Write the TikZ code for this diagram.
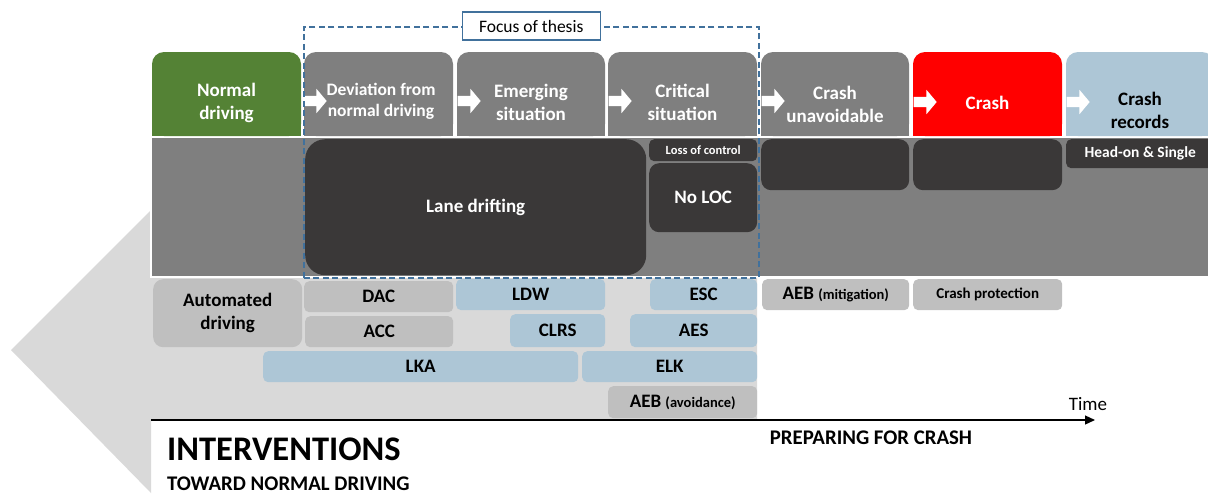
\documentclass[tikz,border=0pt]{standalone}
\usepackage{fontspec}
\setmainfont{Carlito}
\usetikzlibrary{arrows.meta,shapes.arrows}

\definecolor{drvgreen}{HTML}{548235}
\definecolor{stagegray}{HTML}{7F7F7F}
\definecolor{darkbox}{HTML}{3A3838}
\definecolor{crashred}{HTML}{FF0000}
\definecolor{sysblue}{HTML}{ADC6D6}
\definecolor{sysgray}{HTML}{BFBFBF}
\definecolor{backgray}{HTML}{D9D9D9}
\definecolor{focusblue}{HTML}{41719C}

\begin{document}
\begin{tikzpicture}[x=1pt,y=-1pt]
                \tikzstyle{stage}=[align=center, text=white, font=\bfseries\fontsize{19}{23}\selectfont]
                \tikzstyle{blk}=[anchor=north west, rounded corners=10pt, fill=darkbox, inner sep=0pt, text=white, font=\bfseries\fontsize{19}{23}\selectfont]
                \tikzstyle{sys}=[anchor=north west, rounded corners=5pt, inner sep=0pt, align=center, font=\bfseries\fontsize{19}{23}\selectfont]
                \tikzstyle{chev}=[single arrow, fill=white, inner sep=0pt, text height=10pt, text depth=0pt, minimum height=23pt, single arrow head extend=7pt, single arrow tip angle=100]
                \tikzstyle{capt}=[inner sep=0pt, font=\bfseries\fontsize{20.8}{25}\selectfont]

                \useasboundingbox (0,0) rectangle (1208,493);

                % big arrow behind the interventions
                \fill[backgray] (11,350) -- (151,210) -- (151,277) -- (757,277) -- (757,420) -- (151,420) -- (151,493) -- cycle;

                % stage headers
                \foreach \xa/\xb/\col in {152/301/drvgreen, 304/453/stagegray, 457/605/stagegray, 608/757/stagegray, 761/909/stagegray, 913/1062/crashred, 1066/1214/sysblue} {
                    \fill[\col, rounded corners=12pt] (\xa,52) rectangle (\xb,136);
                    \fill[\col] (\xa,90) rectangle (\xb,136);
                }

                % band
                \fill[stagegray] (152,138) rectangle (1215,277);
                \draw[white, line width=2pt] (151,137) -- (151,277) -- (1215,277);

                \node[blk, rounded corners=20pt, minimum width=341pt, minimum height=136pt] (lane) at (305,139) {Lane drifting};
                \node[blk, rounded corners=5pt, minimum width=108pt, minimum height=22pt, font=\bfseries\fontsize{12.5}{15}\selectfont] (loc) at (649,139) {Loss of control};
                \node[blk, minimum width=108pt, minimum height=69pt] (noloc) at (649,163) {No LOC};
                \node[blk, minimum width=148pt, minimum height=51pt] (cudark) at (761,139) {};
                \node[blk, minimum width=149pt, minimum height=51pt] (csdark) at (913,139) {};
                \node[blk, rounded corners=5pt, minimum width=148pt, minimum height=29pt, font=\bfseries\fontsize{15.5}{18}\selectfont] (headon) at (1066,139) {Head-on \& Single};

                \node[stage] (nd) at (226.5,102.5) {Normal\\driving};
                \node[stage, font=\bfseries\fontsize{17.5}{21}\selectfont] (dev) at (381,101) {Deviation from\\normal driving};
                \node[stage] (em) at (531,102.5) {Emerging\\situation};
                \node[stage] (cr) at (682.5,102.5) {Critical\\situation};
                \node[stage] (cu) at (835,104) {Crash\\unavoidable};
                \node[stage] (cs) at (987.5,103) {Crash};
                \node[stage, text=black] (rec) at (1140,110) {Crash\\records};

                \node[chev] (a1) at (313,101) {};
                \node[chev] (a2) at (467,101) {};
                \node[chev] (a3) at (618,101) {};
                \node[chev] (a4) at (771,101) {};
                \node[chev] (a5) at (923,102) {};
                \node[chev] (a6) at (1076,102) {};

                % interventions
                \node[sys, fill=sysgray, rounded corners=10pt, minimum width=149pt, minimum height=68pt] (auto) at (153,279) {Automated\\driving};
                \node[sys, fill=sysgray, minimum width=149pt, minimum height=31pt] (dac) at (304,281) {DAC};
                \node[sys, fill=sysgray, minimum width=148pt, minimum height=31pt] (acc) at (305,316) {ACC};
                \node[sys, fill=sysblue, minimum width=149pt, minimum height=31pt] (ldw) at (456,279) {LDW};
                \node[sys, fill=sysblue, minimum width=95pt, minimum height=33pt] (clrs) at (510,314) {CLRS};
                \node[sys, fill=sysblue, minimum width=107pt, minimum height=31pt] (esc) at (650,279) {ESC};
                \node[sys, fill=sysblue, minimum width=127pt, minimum height=33pt] (aes) at (630,314) {AES};
                \node[sys, fill=sysblue, minimum width=315pt, minimum height=31pt] (lka) at (263,351) {LKA};
                \node[sys, fill=sysblue, minimum width=175pt, minimum height=31pt] (elk) at (582,351) {ELK};
                \node[sys, fill=sysgray, minimum width=149pt, minimum height=32pt] (aebav) at (608,386) {AEB {\fontsize{14.5}{17}\selectfont(avoidance)}};
                \node[sys, fill=sysgray, minimum width=147pt, minimum height=31pt] (aebmi) at (762,279) {AEB {\fontsize{14.5}{17}\selectfont(mitigation)}};
                \node[sys, fill=sysgray, minimum width=149pt, minimum height=31pt, font=\bfseries\fontsize{15}{18}\selectfont] (prot) at (913,279) {Crash protection};

                % time axis
                \coordinate (tstart) at (151,420);
                \coordinate (tend) at (1095,420);
                \draw[line width=1.2pt, -{Triangle[length=10pt,width=9pt]}] (tstart) -- (tend);
                \node[anchor=south, inner sep=0pt, font=\fontsize{19}{23}\selectfont] (time) at (1088,411) {Time};

                % focus of thesis
                \node[draw=focusblue, dash pattern=on 6pt off 3.5pt, line width=1.5pt, anchor=north west, minimum width=455pt, minimum height=251pt] (focus) at (303,26) {};
                \node[draw=focusblue, fill=white, line width=1.2pt, minimum width=138pt, minimum height=28pt, inner sep=0pt, font=\fontsize{17.5}{21}\selectfont] (focuslbl) at (focus.north) {Focus of thesis};

                \node[capt] (prep) at (871,438) {PREPARING FOR CRASH};
                \node[capt, anchor=base west, font=\bfseries\fontsize{34.5}{40}\selectfont] (interv) at (167,460) {INTERVENTIONS};
                \node[capt, anchor=base west] (toward) at (167,490) {TOWARD NORMAL DRIVING};
            \end{tikzpicture}
\end{document}
